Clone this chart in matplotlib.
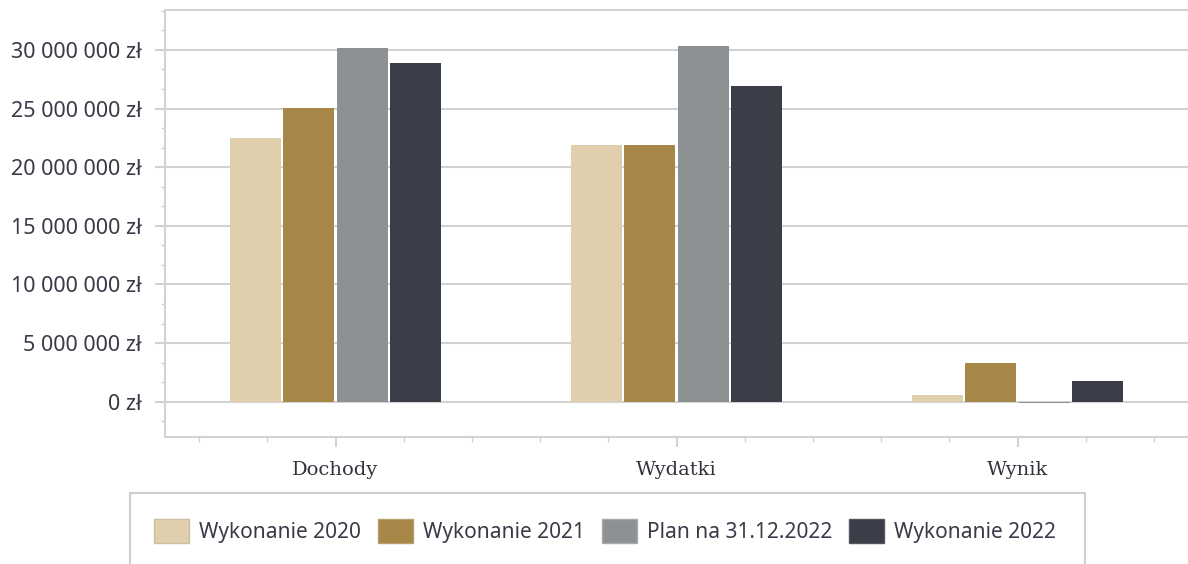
import matplotlib
matplotlib.use("Agg")
import matplotlib.pyplot as plt
import numpy as np
from matplotlib.ticker import MultipleLocator, FuncFormatter
from matplotlib.patches import Rectangle

categories = ["Dochody", "Wydatki", "Wynik"]
series_names = ["Wykonanie 2020", "Wykonanie 2021", "Plan na 31.12.2022", "Wykonanie 2022"]
wyk_2020 = [22500000, 21850000, 570000]
wyk_2021 = [25050000, 21850000, 3300000]
plan_2022 = [30200000, 30350000, -60000]
wyk_2022 = [28900000, 26900000, 1780000]
series_values = [wyk_2020, wyk_2021, plan_2022, wyk_2022]
colors = ["#dfcfad", "#a68747", "#8e9194", "#3b3d48"]

W, H = 1188, 564
fig = plt.figure(figsize=(W / 100, H / 100), dpi=100)
ax = fig.add_axes([165 / W, 1 - 437 / H, 1 - 165 / W, (437 - 10) / H])

x = np.arange(len(categories))
step = 0.1555
width = 0.1495
for i, (name, vals, c) in enumerate(zip(series_names, series_values, colors)):
    ax.bar(x + (i - 1.5) * step, vals, width=width, color=c, label=name,
           linewidth=0, zorder=3)

ax.set_xlim(-0.5, 2.5)
ax.set_ylim(-3000000, 33400000)

grid_c = "#d2d2d2"
ax.yaxis.set_major_locator(MultipleLocator(5000000))
ax.yaxis.set_minor_locator(MultipleLocator(5000000 / 3))
ax.xaxis.set_major_locator(plt.FixedLocator(x))
ax.xaxis.set_minor_locator(MultipleLocator(0.2))

def fmt(v, pos):
    s = f"{int(round(v)):,}".replace(",", " ")
    return f"{s} zł"

ax.yaxis.set_major_formatter(FuncFormatter(fmt))
ax.set_xticks(x)
ax.set_xticklabels(categories, fontfamily="DejaVu Serif", fontsize=14, color="#33333d")

ax.grid(axis="y", which="major", color=grid_c, linewidth=1.5, zorder=0)
ax.set_axisbelow(True)

for lab in ax.get_yticklabels():
    lab.set_fontfamily("Noto Sans")
    lab.set_fontsize(15.5)
    lab.set_color("#3a3a48")

ax.tick_params(axis="y", which="major", length=7.5, width=1.5, color=grid_c, pad=9)
ax.tick_params(axis="y", which="minor", length=3, width=1.0, color=grid_c)
ax.tick_params(axis="x", which="major", length=7.5, width=1.5, color=grid_c, pad=10)
ax.tick_params(axis="x", which="minor", length=3.5, width=1.0, color=grid_c)

for side in ["left", "top", "bottom"]:
    ax.spines[side].set_color(grid_c)
    ax.spines[side].set_linewidth(1.5)
ax.spines["right"].set_visible(False)

# legend frame (extends beyond the figure bottom)
fig.patches.append(Rectangle((130 / W, -0.05), (1085 - 130) / W, 1 - 493 / H + 0.05,
                             transform=fig.transFigure, facecolor="white",
                             edgecolor="#cfcfcf", linewidth=1.5))

handles, labels = ax.get_legend_handles_labels()
leg = fig.legend(handles, labels, loc="center", bbox_to_anchor=(605 / W, 1 - 531 / H),
                 ncol=4, frameon=False, prop={"family": "Noto Sans", "size": 15},
                 handlelength=1.68, handleheight=1.35, handletextpad=0.48,
                 columnspacing=0.82, borderaxespad=0)
for t in leg.get_texts():
    t.set_color("#3a3a48")
edge_cols = ["#cbbf9f", "#b8a070", "#a8aaac", "#55565e"]
for p, ec in zip(leg.get_patches(), edge_cols):
    p.set_edgecolor(ec)
    p.set_linewidth(1)

fig.savefig("out.png", dpi=100)
